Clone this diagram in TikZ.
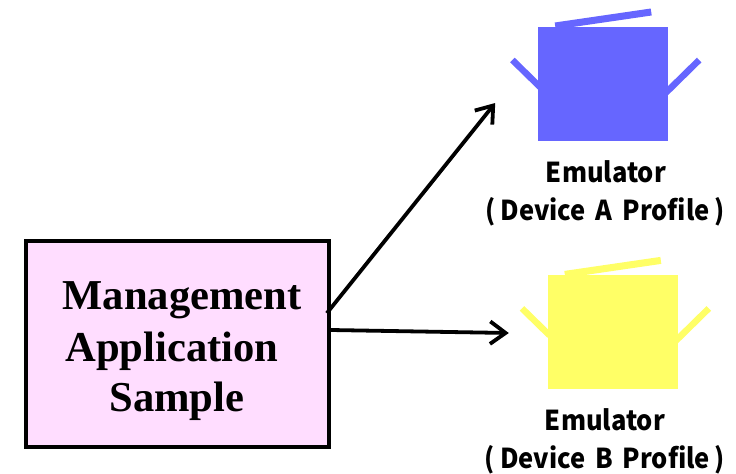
\documentclass[tikz,border=0pt]{standalone}
\usepackage{fontspec}
\setmainfont{Liberation Serif}
\newfontfamily\gothicfont[FakeStretch=0.93,WordSpace=1.7]{Noto Sans CJK JP}
\usetikzlibrary{arrows.meta}
\definecolor{boxpink}{HTML}{FFDDFF}
\definecolor{deviceblue}{HTML}{6666FF}
\definecolor{deviceyellow}{HTML}{FFFF66}
\tikzset{
    appbox/.style={shape=rectangle,draw=black,fill=boxpink,line width=2.6pt,minimum width=7.575cm,minimum height=5.15cm},
    applabel/.style={anchor=base,inner sep=0pt,font=\fontsize{30.3}{30}\selectfont\bfseries},
    devbody/.style={shape=rectangle,inner sep=0pt,minimum width=3.25cm,minimum height=2.85cm},
    devlid/.style={line width=5pt},
    devarm/.style={line width=4.6pt},
    devlabel/.style={anchor=base,inner sep=0pt,font=\fontsize{19.5}{20}\selectfont\gothicfont\bfseries},
    link/.style={-{Straight Barb[length=11pt,width=16pt,line width=2.7pt]},line width=2.7pt}
}
\begin{document}
\begin{tikzpicture}
            \useasboundingbox (0,0) rectangle (18.4,11.825);

            % application box
            \node[appbox] (app) at (4.4375,3.225) {};
            \node[applabel] (app1) at (4.55,4.1) {Management};
            \node[applabel] (app2) at (4.3,2.8) {Application};
            \node[applabel] (app3) at (4.42,1.55) {Sample};

            % device A
            \draw[devlid,deviceblue] (13.88,11.175) -- (16.28,11.525);
            \draw[devarm,deviceblue] (12.81,10.325) -- (13.5,9.65);
            \draw[devarm,deviceblue] (17.48,10.325) -- (16.65,9.51);
            \node[devbody,fill=deviceblue] (deva) at (15.075,9.725) {};
            \node[devlabel] (deva1) at (15.15,7.275) {Emulator};
            \node[devlabel] (deva2) at (15.13,6.325) {(\kern3.5pt Device A Profile\kern3.5pt)};

            % device B
            \draw[devlid,deviceyellow] (14.12,4.965) -- (16.52,5.315);
            \draw[devarm,deviceyellow] (13.05,4.115) -- (13.74,3.44);
            \draw[devarm,deviceyellow] (17.72,4.115) -- (16.89,3.3);
            \node[devbody,fill=deviceyellow] (devb) at (15.32,3.52) {};
            \node[devlabel] (devb1) at (15.125,1.075) {Emulator};
            \node[devlabel] (devb2) at (15.125,0.11) {(\kern3.5pt Device B Profile\kern3.5pt)};

            % arrows
            \coordinate (enda) at (12.38,9.25);
            \coordinate (endb) at (12.72,3.5);
            \draw[link] ([xshift=-0.1cm,yshift=0.77cm]app.east) -- (enda);
            \draw[link] ([yshift=0.35cm]app.east) -- (endb);
        \end{tikzpicture}
\end{document}
